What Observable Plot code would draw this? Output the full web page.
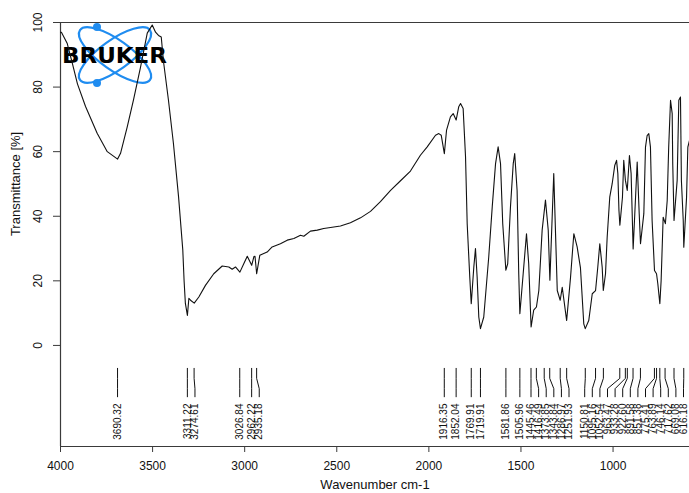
<!DOCTYPE html>
<html>
<head>
<meta charset="utf-8">
<script src="https://cdn.jsdelivr.net/npm/d3@7"></script>
<script src="https://cdn.jsdelivr.net/npm/@observablehq/plot@0.6"></script>
<style>
  html, body { margin: 0; padding: 0; background: #fff; }
  #wrap { position: relative; width: 689px; height: 493px; overflow: hidden; }
  #wrap svg.logo { position: absolute; left: 0; top: 0; }
  #chart { position: absolute; left: 0; top: 0; }
</style>
</head>
<body>
<div id="wrap">
  <div id="chart"></div>
</div>
<script>
// ---- data ----
const wavenumbers = [4000,3995,3964,3936,3908,3864,3801,3746,3690,3674,3638,3604,3566,3529,3502,3484,3468,3453,3441,3414,3387,3359,3336,3329,3322,3311,3303,3294,3274,3249,3213,3168,3122,3086,3068,3050,3026,3005,2986,2962,2950,2944,2935,2918,2878,2851,2806,2769,2733,2697,2679,2643,2606,2571,2534,2480,2426,2371,2317,2263,2208,2154,2100,2046,2009,1964,1946,1933,1916,1904,1883,1868,1852,1838,1828,1814,1801,1792,1778,1770,1756,1747,1738,1729,1720,1702,1675,1656,1638,1624,1611,1599,1582,1572,1557,1542,1534,1521,1512,1506,1488,1470,1458,1445,1431,1416,1403,1385,1367,1352,1343,1322,1303,1287,1276,1252,1231,1213,1195,1177,1159,1151,1132,1113,1095,1083,1072,1059,1053,1041,1032,1018,1005,991,981,974,968,963,949,942,933,923,911,902,891,882,869,858,851,833,824,815,806,797,788,775,764,757,746,739,728,716,706,698,688,679,676,669,652,643,634,629,619,616,601,594,585];
const transmittance = [97,97,93.6,87.4,81,74,65.7,60,57.7,59.5,67.6,76,86,96.7,99.2,97,96,95.5,88,76,62.6,46,29.5,20,13,9.3,14.6,14,13.1,15,18.6,22.2,24.6,24.3,23.6,24.3,22.7,25.3,27.6,24.8,27.5,27.6,22.2,27.9,28.9,30.5,31.5,32.6,33.1,34.1,33.8,35.4,35.7,36.2,36.5,37,38,39.5,41.5,44.5,48,51,54,58.9,61.5,65.1,65.6,65.1,59.4,66.7,70.8,71.8,69.8,73.9,74.9,73.4,58.4,37.7,21.2,12.9,24.3,30,21.2,8.8,5.2,8.8,27.4,42.9,56.3,61.5,56.3,37.7,23.3,25.3,42.9,56.3,59.4,48,22,9.8,22.2,34.6,25.3,5.7,10.9,11.9,17,35.7,45,35.7,20.2,53.2,17,14,18,7.7,21,34.6,30.5,24,6.7,5.2,7.7,16,17,24.2,31.5,24.2,17,22.2,33.5,45.9,50,55.7,57.3,53.2,41.8,37.2,45.9,57.3,51.1,48,58.8,53.2,29.9,40.8,56.8,40.8,31.5,40.8,61.4,65,65.6,61.4,38.7,23.2,22.2,19.1,12.9,20.1,39.7,37.7,44.9,61.4,75.9,71.8,56.3,38.7,51.1,75.9,76.9,51.1,38.7,30.4,45.9,61.4,63.5];

const peakLabels = ["3690.32","3311.22","3274.61","3026.84","2962.22","2935.18","1916.35","1852.04","1769.91","1719.91","1581.86","1505.96","1445.46","1416.49","1373.85","1343.84","1286.97","1251.93","1150.81","1095.16","1052.54","963.47","933.28","922.60","891.58","851.38","775.41","763.89","746.14","717.62","669.08","616.18"];

const xTicks = [4000, 3500, 3000, 2500, 2000, 1500, 1000];
const yTicks = [0, 20, 40, 60, 80, 100];
const xTitle = "Wavenumber cm-1";
const yTitle = "Transmittance [%]";
const logoText = "BRUKER";

// ---- layout ----
const W = 689, H = 493;
const mL = 60, mR = 0, mT = 22, mB = 47;
const xDomain = [4000, 585];
const yDomain = [-31.3, 100];
const font = "'Liberation Sans', Arial, sans-serif";

// spread peak labels horizontally (pixel space) so they don't overlap
const xs = d3.scaleLinear().domain(xDomain).range([mL, W - mR]);
const peaks = peakLabels.map(s => ({text: s, wn: +s})).sort((a, b) => b.wn - a.wn);
const gap = 7.6;
const px = peaks.map(p => xs(p.wn));
const lx = px.slice();
for (let i = 1; i < lx.length; i++) lx[i] = Math.max(lx[i], lx[i - 1] + gap);
lx[lx.length - 1] = Math.min(lx[lx.length - 1], W - 6);
for (let i = lx.length - 2; i >= 0; i--) lx[i] = Math.min(lx[i], lx[i + 1] - gap);
peaks.forEach((p, i) => { p.lwn = xs.invert(lx[i]); });

const leaderPts = [];
peaks.forEach((p, i) => {
  leaderPts.push({k: i, x: p.wn, y: -7.1});
  leaderPts.push({k: i, x: p.wn, y: -10.2});
  leaderPts.push({k: i, x: p.lwn, y: -13.4});
  leaderPts.push({k: i, x: p.lwn, y: -15.9});
});

const idx = d3.range(wavenumbers.length);
const axisColor = "#3a3a3a";

const chart = Plot.plot({
  width: W, height: H,
  marginLeft: mL, marginRight: mR, marginTop: mT, marginBottom: mB,
  style: {fontFamily: font, background: "transparent", color: "#111", overflow: "visible"},
  x: {domain: xDomain, range: [mL, W - mR]},
  y: {domain: yDomain},
  marks: [
    Plot.axisX({ticks: xTicks, tickSize: 6, tickPadding: 9, tickFormat: d => String(d), fontSize: 12, label: null, stroke: axisColor}),
    Plot.axisY({ticks: yTicks, tickSize: 7, tickPadding: 12, tickRotate: -90, tickFormat: d => String(d), fontSize: 12, label: null, stroke: axisColor}),
    Plot.ruleX([xDomain[0]], {stroke: axisColor, strokeWidth: 1.2}),
    Plot.ruleY([yDomain[0]], {stroke: axisColor, strokeWidth: 1.2}),
    Plot.ruleY([yDomain[1]], {stroke: axisColor, strokeWidth: 1.2}),
    Plot.line(idx, {x: i => wavenumbers[i], y: i => transmittance[i], stroke: "#111", strokeWidth: 1.1}),
    Plot.line(leaderPts, {x: "x", y: "y", z: "k", stroke: "#111", strokeWidth: 1}),
    Plot.text(peaks, {x: "lwn", y: () => -18, text: "text", rotate: -90, textAnchor: "end", fontSize: 10, fill: "#111"}),
    Plot.text([xTitle], {frameAnchor: "bottom", dy: 38, lineAnchor: "middle", textAnchor: "middle", fontSize: 13, fill: "#111"}),
    Plot.text([yTitle], {frameAnchor: "left", y: () => 50, dx: -45, rotate: -90, textAnchor: "middle", lineAnchor: "middle", fontSize: 13, fill: "#111"})
  ]
});
document.getElementById("chart").appendChild(chart);

// ---- Bruker logo (decoration) ----
const ns = "http://www.w3.org/2000/svg";
const logo = document.createElementNS(ns, "svg");
logo.setAttribute("class", "logo");
logo.setAttribute("width", 200);
logo.setAttribute("height", 100);
const blue = "#1f8cf0";
const cx = 115, cy = 55;
[35.5, -35.5].forEach(a => {
  const e = document.createElementNS(ns, "ellipse");
  e.setAttribute("cx", cx); e.setAttribute("cy", cy);
  e.setAttribute("rx", 43); e.setAttribute("ry", 15);
  e.setAttribute("transform", `rotate(${a} ${cx} ${cy})`);
  e.setAttribute("fill", "none"); e.setAttribute("stroke", blue); e.setAttribute("stroke-width", 2.2);
  logo.appendChild(e);
});
[[97, 27], [97, 83]].forEach(([x, y]) => {
  const c = document.createElementNS(ns, "circle");
  c.setAttribute("cx", x); c.setAttribute("cy", y); c.setAttribute("r", 4);
  c.setAttribute("fill", blue);
  logo.appendChild(c);
});
const t = document.createElementNS(ns, "text");
t.setAttribute("x", 62); t.setAttribute("y", 63);
t.setAttribute("font-family", "'DejaVu Sans', sans-serif");
t.setAttribute("font-weight", "bold");
t.setAttribute("font-size", 21);
t.setAttribute("textLength", 105);
t.setAttribute("lengthAdjust", "spacingAndGlyphs");
t.setAttribute("fill", "#000");
t.textContent = logoText;
logo.appendChild(t);
document.getElementById("wrap").insertBefore(logo, document.getElementById("chart"));
</script>
</body>
</html>
